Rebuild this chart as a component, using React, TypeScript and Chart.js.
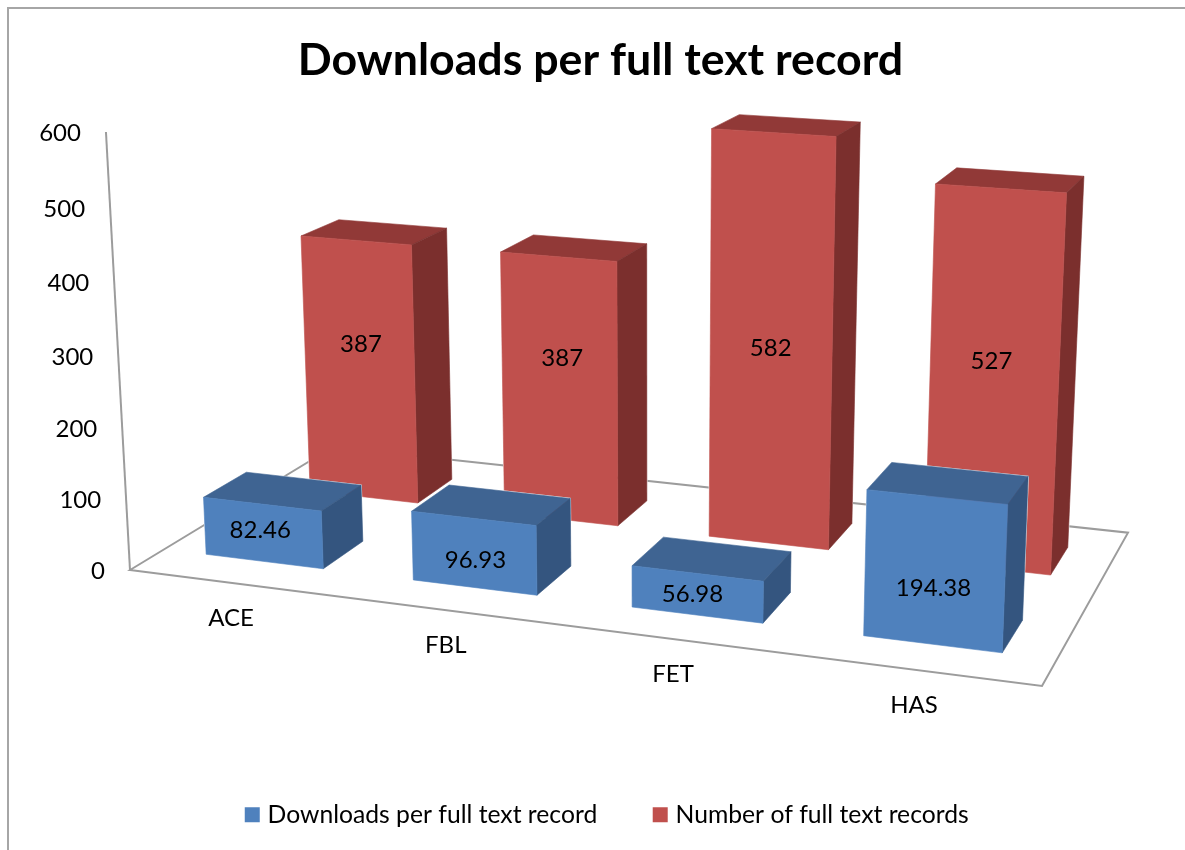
import React, { useEffect, useRef } from "react";
import { Chart, registerables } from "chart.js";

Chart.register(...registerables);

// ---- data ----
const categories = ["ACE", "FBL", "FET", "HAS"];
const downloadsPerRecord = [82.46, 96.93, 56.98, 194.38];
const fullTextRecords = [387, 387, 582, 527];
const yTicks = [0, 100, 200, 300, 400, 500, 600];

// ---- styling / layout of the 3-D view ----
const FONT = "Lato, Carlito, sans-serif";
const BLUE = { front: "#4F81BD", top: "#3F6492", side: "#34557F" };
const RED = { front: "#C0504D", top: "#913937", side: "#7B2F2D" };
const FACES = [BLUE, RED];
const DEPTH = [[0.15, 0.35], [0.65, 0.85]];
const HALF_BAR = 0.07;
const LEFT_EXTRA = [0.003, 0];
const LABEL_LIFT = [[0.54, 0.4, 0.5, 0.385], [0.6, 0.62, 0.484, 0.555]];
const LABEL_NUDGE_X = [[-4, 0, -6, -2], [2, 3, 0, -3]];
const LINE = "#9c9c9c";

// floor quad (front-left, front-right, back-right, back-left) and wall column, in canvas pixels
const FL = [130, 570], FR = [1042, 686], BR = [1128, 532.7], BL = [333, 447];
const COL_A = -28.7, COL_B = -443.8, COL_C = -0.044;

function makeCamera() {
  const dx1 = FR[0] - BR[0], dx2 = BL[0] - BR[0], sx = FL[0] - FR[0] + BR[0] - BL[0];
  const dy1 = FR[1] - BR[1], dy2 = BL[1] - BR[1], sy = FL[1] - FR[1] + BR[1] - BL[1];
  const det = dx1 * dy2 - dx2 * dy1;
  const g = (sx * dy2 - dx2 * sy) / det;
  const h = (dx1 * sy - sx * dy1) / det;
  const a = FR[0] - FL[0] + g * FR[0], b = BL[0] - FL[0] + h * BL[0], c = FL[0];
  const d = FR[1] - FL[1] + g * FR[1], e = BL[1] - FL[1] + h * BL[1], f = FL[1];
  return (u: number, v: number, w: number): [number, number] => {
    const q = 1 + g * u + h * v + COL_C * w;
    return [(a * u + b * v + c + COL_A * w) / q, (d * u + e * v + f + COL_B * w) / q];
  };
}
const project = makeCamera();

function poly(ctx: CanvasRenderingContext2D, pts: [number, number][]) {
  ctx.beginPath();
  pts.forEach((p, i) => (i ? ctx.lineTo(p[0], p[1]) : ctx.moveTo(p[0], p[1])));
  ctx.closePath();
}

const view3d = {
  id: "view3d",
  beforeDraw(chart: any) {
    const { ctx, width, height } = chart;
    ctx.save();
    ctx.fillStyle = "#fff";
    ctx.fillRect(0, 0, width, height);
    ctx.strokeStyle = "#a6a6a6";
    ctx.lineWidth = 2;
    ctx.beginPath();
    ctx.moveTo(8, height);
    ctx.lineTo(8, 8);
    ctx.lineTo(width, 8);
    ctx.stroke();
    ctx.restore();
  },
  afterLayout(chart: any) {
    chart.legend.left += 8.5;
    chart.legend.right += 8.5;
  },
  beforeDatasetsDraw(chart: any) {
    const { ctx, scales } = chart;
    const xs = scales.x, ys = scales.y;
    const uOf = (i: number) => (xs.getPixelForValue(i) - xs.left) / (xs.right - xs.left);
    const wOf = (val: number) => (ys.bottom - ys.getPixelForValue(val)) / (ys.bottom - ys.top);

    ctx.save();
    // floor and value axis
    ctx.strokeStyle = LINE;
    ctx.lineWidth = 2;
    ctx.lineJoin = "miter";
    poly(ctx, [project(0, 0, 0), project(1, 0, 0), project(1, 1, 0), project(0, 1, 0)]);
    ctx.stroke();
    ctx.beginPath();
    const a0 = project(0, 0, 0), a1 = project(0, 0, wOf(ys.max));
    ctx.moveTo(a0[0], a0[1]);
    ctx.lineTo(a1[0], a1[1]);
    ctx.stroke();

    // value axis labels
    ctx.fillStyle = "#000";
    ctx.font = `24px ${FONT}`;
    ctx.textAlign = "right";
    ctx.textBaseline = "middle";
    yTicks.forEach((t) => {
      const p = project(0, 0, wOf(t));
      ctx.fillText(String(t), p[0] - 25, p[1] + 1);
    });
    // category labels
    ctx.textAlign = "center";
    categories.forEach((name, i) => {
      const p = project(uOf(i), 0, 0);
      ctx.fillText(name, p[0] - 2, p[1] + 35);
    });

    // boxes: back row first
    [1, 0].forEach((ds) => {
      const [v0, v1] = DEPTH[ds];
      const col = FACES[ds];
      chart.data.datasets[ds].data.forEach((val: number, i: number) => {
        const c = uOf(i), u0 = c - HALF_BAR - LEFT_EXTRA[ds], u1 = c + HALF_BAR, w = wOf(val);
        const ftl = project(u0, v0, w), ftr = project(u1, v0, w);
        const fbl = project(u0, v0, 0), fbr = project(u1, v0, 0);
        const btl = project(u0, v1, w), btr = project(u1, v1, w), bbr = project(u1, v1, 0);
        poly(ctx, [fbl, ftl, btl, btr, bbr, fbr]);
        ctx.strokeStyle = "#fff";
        ctx.lineWidth = 1.5;
        ctx.lineJoin = "round";
        ctx.stroke();
        ctx.lineWidth = 0.6;
        const face = (pts: [number, number][], color: string) => {
          poly(ctx, pts);
          ctx.fillStyle = color;
          ctx.strokeStyle = color;
          ctx.fill();
          ctx.stroke();
        };
        face([ftl, btl, btr, ftr], col.top);
        face([ftr, btr, bbr, fbr], col.side);
        face([fbl, ftl, ftr, fbr], col.front);
      });
    });

    // value labels
    ctx.fillStyle = "#000";
    ctx.font = `24px ${FONT}`;
    ctx.textAlign = "center";
    ctx.textBaseline = "middle";
    [1, 0].forEach((ds) => {
      chart.data.datasets[ds].data.forEach((val: number, i: number) => {
        const p = project(uOf(i), DEPTH[ds][0], wOf(val) * LABEL_LIFT[ds][i]);
        ctx.fillText(ds === 0 ? val.toFixed(2) : String(val), p[0] + LABEL_NUDGE_X[ds][i], p[1]);
      });
    });
    ctx.restore();
  },
  beforeDatasetDraw() {
    return false;
  },
};

export default function App() {
  const ref = useRef<HTMLCanvasElement>(null);
  useEffect(() => {
    const chart = new Chart(ref.current as HTMLCanvasElement, {
      type: "bar",
      data: {
        labels: categories,
        datasets: [
          { label: "Downloads per full text record", data: downloadsPerRecord, backgroundColor: BLUE.front },
          { label: "Number of full text records", data: fullTextRecords, backgroundColor: RED.front },
        ],
      },
      plugins: [view3d],
      options: {
        animation: false,
        responsive: false,
        layout: { padding: { left: 16, top: 34, bottom: 13 } },
        scales: {
          x: { display: false },
          y: { display: false, min: 0, max: 600 },
        },
        plugins: {
          tooltip: { enabled: false },
          title: {
            display: true,
            text: "Downloads per full text record",
            color: "#000",
            font: { family: FONT, size: 44.7, weight: "bold" },
            padding: { top: 0, bottom: 40 },
          },
          legend: {
            position: "bottom",
            labels: {
              color: "#000",
              font: { family: FONT, size: 24.7 },
              boxWidth: 6,
              boxHeight: 6,
              padding: 60,
              generateLabels: (c: any) =>
                c.data.datasets.map((d: any, i: number) => ({
                  text: d.label,
                  fillStyle: d.backgroundColor,
                  strokeStyle: d.backgroundColor,
                  lineWidth: 9,
                  fontColor: "#000",
                  datasetIndex: i,
                })),
            },
          },
        },
      },
    } as any);
    return () => chart.destroy();
  }, []);
  return (
    <canvas
      ref={ref}
      width={1185}
      height={850}
      style={{ position: "fixed", left: 0, top: 0, display: "block" }}
    />
  );
}
